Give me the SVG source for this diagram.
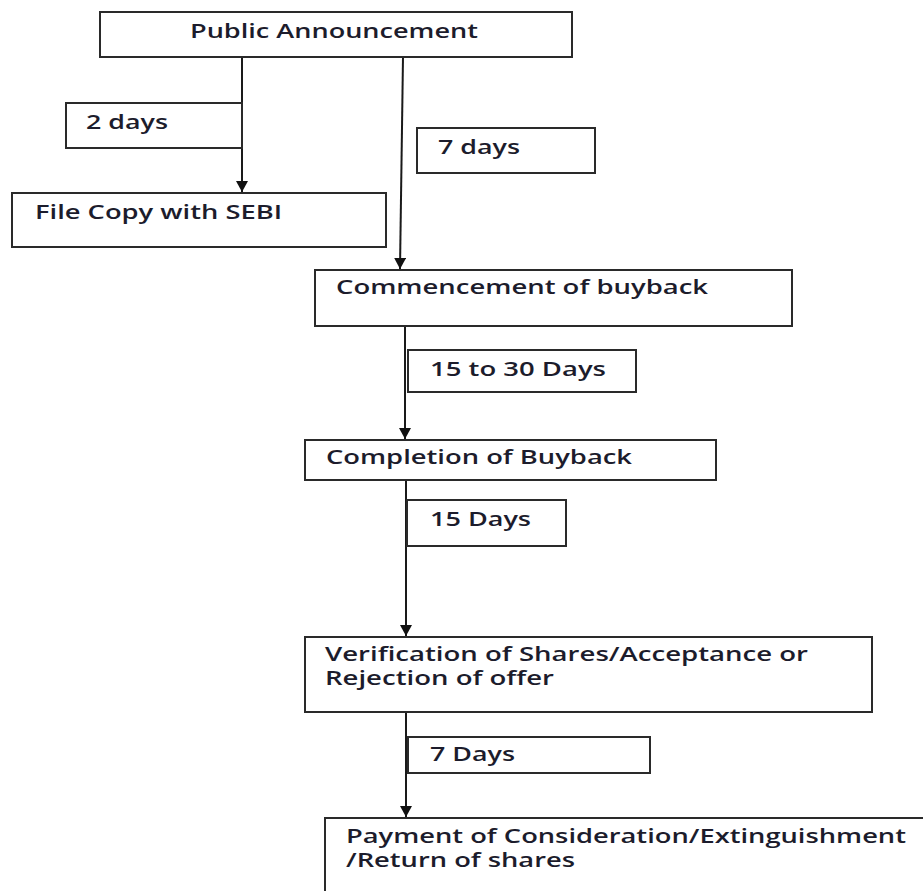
<svg xmlns="http://www.w3.org/2000/svg" width="923" height="891" viewBox="0 0 923 891">
<defs>
<style>
.box{fill:#fff;stroke:#2a2a2a;stroke-width:2}
.t{font-family:"Open Sans","Liberation Sans",sans-serif;font-size:19px;font-weight:600;fill:#1c1c2c}
.c{stroke:#1a1a1a;stroke-width:2;fill:none}
</style>
<marker id="ah" markerWidth="12" markerHeight="12" refX="11" refY="6" orient="auto" markerUnits="userSpaceOnUse">
<path d="M0,0 L11,6 L0,12 z" fill="#111"/>
</marker>
</defs>
<rect width="923" height="891" fill="#fff"/>
<g id="connectors">
<line class="c" x1="242" y1="57" x2="242" y2="192" marker-end="url(#ah)"/>
<line class="c" x1="403" y1="57" x2="400" y2="269" marker-end="url(#ah)"/>
<line class="c" x1="405" y1="326" x2="405" y2="439" marker-end="url(#ah)"/>
<line class="c" x1="406" y1="480" x2="406" y2="636" marker-end="url(#ah)"/>
<line class="c" x1="406" y1="712" x2="406" y2="817" marker-end="url(#ah)"/>
</g>
<g id="public-announcement">
<rect class="box" x="100" y="12" width="472" height="45"/>
<text class="t" x="190" y="38" textLength="288" lengthAdjust="spacingAndGlyphs">Public Announcement</text>
</g>
<g id="label-2days">
<rect class="box" x="66" y="103" width="176" height="45"/>
<text class="t" x="86" y="129" textLength="82" lengthAdjust="spacingAndGlyphs">2 days</text>
</g>
<g id="file-copy">
<rect class="box" x="12" y="193" width="374" height="54"/>
<text class="t" x="35" y="219" textLength="247" lengthAdjust="spacingAndGlyphs">File Copy with SEBI</text>
</g>
<g id="label-7days">
<rect class="box" x="417" y="128" width="178" height="45"/>
<text class="t" x="438" y="154" textLength="82" lengthAdjust="spacingAndGlyphs">7 days</text>
</g>
<g id="commencement">
<rect class="box" x="315" y="270" width="477" height="56"/>
<text class="t" x="336" y="294" textLength="372" lengthAdjust="spacingAndGlyphs">Commencement of buyback</text>
</g>
<g id="label-15to30">
<rect class="box" x="408" y="350" width="228" height="42"/>
<text class="t" x="430" y="376" textLength="176" lengthAdjust="spacingAndGlyphs">15 to 30 Days</text>
</g>
<g id="completion">
<rect class="box" x="305" y="440" width="411" height="40"/>
<text class="t" x="326" y="464" textLength="306" lengthAdjust="spacingAndGlyphs">Completion of Buyback</text>
</g>
<g id="label-15days">
<rect class="box" x="407" y="500" width="159" height="46"/>
<text class="t" x="430" y="526" textLength="101" lengthAdjust="spacingAndGlyphs">15 Days</text>
</g>
<g id="verification">
<rect class="box" x="305" y="637" width="567" height="75"/>
<text class="t" x="325" y="661" textLength="483" lengthAdjust="spacingAndGlyphs">Verification of Shares/Acceptance or</text>
<text class="t" x="325" y="685" textLength="229" lengthAdjust="spacingAndGlyphs">Rejection of offer</text>
</g>
<g id="label-7days-b">
<rect class="box" x="408" y="737" width="242" height="36"/>
<text class="t" x="430" y="761" textLength="85" lengthAdjust="spacingAndGlyphs">7 Days</text>
</g>
<g id="payment">
<rect class="box" x="325" y="818" width="640" height="100"/>
<text class="t" x="346" y="843" textLength="560" lengthAdjust="spacingAndGlyphs">Payment of Consideration/Extinguishment</text>
<text class="t" x="346" y="867" textLength="229" lengthAdjust="spacingAndGlyphs">/Return of shares</text>
</g>
</svg>
